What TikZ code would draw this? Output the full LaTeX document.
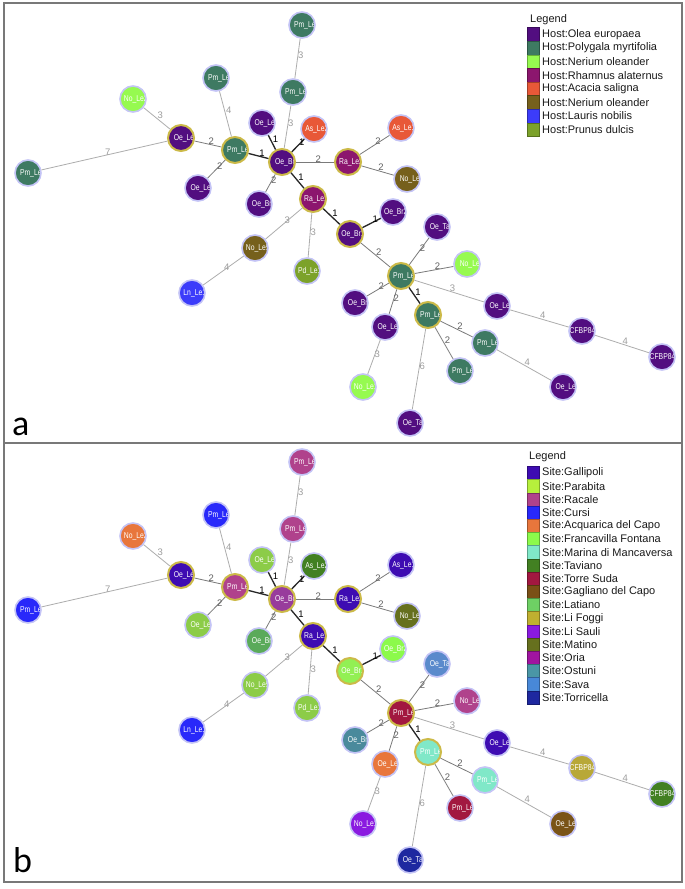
\documentclass[tikz,border=0pt]{standalone}
\usepackage{fontspec}
\setmainfont{Liberation Sans}
\newfontfamily\labfont[FakeStretch=0.8]{Liberation Sans}
\newfontfamily\elfont{Liberation Sans}
\newfontfamily\panfont{Carlito}
% ring colours
\definecolor{ringc}{RGB}{196,196,246}
\definecolor{hubc}{RGB}{204,186,72}
% panel a (host)
\definecolor{OE}{RGB}{82,14,128}
\definecolor{PM}{RGB}{62,122,98}
\definecolor{NOa}{RGB}{150,250,80}
\definecolor{RA}{RGB}{140,22,110}
\definecolor{AS}{RGB}{232,88,56}
\definecolor{NOb}{RGB}{118,96,28}
\definecolor{LN}{RGB}{60,60,250}
\definecolor{PD}{RGB}{124,162,42}
% panel b (site)
\definecolor{Gallipoli}{RGB}{62,12,178}
\definecolor{Parabita}{RGB}{182,240,60}
\definecolor{Racale}{RGB}{176,66,140}
\definecolor{Cursi}{RGB}{40,40,250}
\definecolor{Acquarica}{RGB}{232,118,60}
\definecolor{Francavilla}{RGB}{140,250,75}
\definecolor{Marina}{RGB}{128,232,200}
\definecolor{Taviano}{RGB}{66,128,34}
\definecolor{TorreSuda}{RGB}{162,24,64}
\definecolor{Gagliano}{RGB}{122,80,22}
\definecolor{Latiano}{RGB}{110,208,100}
\definecolor{LiFoggi}{RGB}{192,176,48}
\definecolor{LiSauli}{RGB}{138,26,224}
\definecolor{Matino}{RGB}{102,112,30}
\definecolor{Oria}{RGB}{160,20,160}
\definecolor{Ostuni}{RGB}{74,150,166}
\definecolor{Sava}{RGB}{72,136,216}
\definecolor{Torricella}{RGB}{30,40,160}
\definecolor{YG}{RGB}{140,204,72}
\definecolor{PurpleMix}{RGB}{152,60,156}
\definecolor{GreenMix}{RGB}{90,170,90}
\definecolor{FrancavillaB}{RGB}{146,240,84}
\definecolor{OstuniB}{RGB}{74,138,156}
\definecolor{GaglianoB}{RGB}{122,84,24}
\definecolor{LiFoggiB}{RGB}{184,168,56}
\definecolor{SavaB}{RGB}{90,138,204}
\definecolor{frame}{RGB}{120,120,120}
\definecolor{legtext}{RGB}{26,26,26}

\tikzset{
  nd/.style={circle, minimum size=26pt, inner sep=0pt, line width=1.6pt, draw=ringc},
  hub/.style={draw=hubc, line width=2pt},
  lbltxt/.style={inner sep=0pt, text=white, font=\labfont\fontsize{8.5}{8.5}\selectfont},
  w1/.style={draw=black!85, line width=1.3pt},
  w2/.style={draw=black!52, line width=0.8pt},
  w3/.style={draw=black!32, line width=0.8pt},
  w4/.style={w3}, w6/.style={w3}, w7/.style={w3},
  elbase/.style={pos=.5, anchor=base west, inner sep=0.3pt, font=\elfont\fontsize{9.5}{9.5}\selectfont},
  el1/.style={elbase, text=black},
  el2/.style={elbase, text=black!62},
  el3/.style={elbase, text=black!38},
  el4/.style={el3}, el6/.style={el3}, el7/.style={el3},
  legtitle/.style={anchor=west, inner sep=0pt, text=legtext, font=\elfont\fontsize{11}{11}\selectfont},
  legtxt/.style={anchor=west, inner sep=0pt, text=legtext, font=\elfont\fontsize{11}{11}\selectfont},
  panlab/.style={anchor=base west, inner sep=0pt, font=\panfont\fontsize{36}{36}\selectfont},
}

\newcommand\pfx{a}
\newcommand\Nd[5][]{\node[nd,#1,fill=#4,path picture={\node[lbltxt,anchor=west] at ([xshift=2pt]path picture bounding box.west) {#5};}] (\pfx#2) at (#3) {};}
\newcommand\Nc[5][]{\node[nd,#1,fill=#4,path picture={\node[lbltxt,anchor=center] at ([xshift=0.5pt]path picture bounding box.center) {#5};}] (\pfx#2) at (#3) {};}
\newcommand\Ed[3]{\draw[w#3] (\pfx#1) -- node[el#3] (\pfx l#1x#2) {#3} (\pfx#2);}

\newcommand\drawnet{%
  \Nd{1}{302,25}{c1}{Pm\_Le}
  \Nd{2}{293,92}{c2}{Pm\_Le}
  \Nd{3}{216,78}{c3}{Pm\_Le}
  \Nd{4}{133,99}{c4}{No\_Le2}
  \Nd[hub]{5}{181,138}{c5}{Oe\_Le}
  \Nd{6}{28,173}{c6}{Pm\_Le}
  \Nd[hub]{7}{235,150}{c7}{Pm\_Le}
  \Nd{8}{198,188}{c8}{Oe\_Le}
  \Nd{9}{262,123}{c9}{Oe\_Le}
  \Nd[hub]{10}{282,162}{c10}{Oe\_Br}
  \Nd{11}{314,129}{c11}{As\_Le2}
  \Nd[hub]{12}{348,162}{c12}{Ra\_Le2}
  \Nd{13}{401,128}{c13}{As\_Le1}
  \Nd{14}{407,179}{c14}{No\_Le}
  \Nd{15}{259,204}{c15}{Oe\_Br}
  \Nd[hub]{16}{313,199}{c16}{Ra\_Le1}
  \Nd{17}{393,212}{c17}{Oe\_Br2}
  \Nd[hub]{18}{350,234}{c18}{Oe\_Br1}
  \Nd{19}{255,248}{c19}{No\_Le5}
  \Nd{20}{192,293}{c20}{Ln\_Le1}
  \Nd{21}{307,271}{c21}{Pd\_Le1}
  \Nd{22}{437,227}{c22}{Oe\_Ta}
  \Nd{23}{467,264}{c23}{No\_Le}
  \Nd[hub]{24}{401,276}{c24}{Pm\_Le}
  \Nd{25}{355,303}{c25}{Oe\_Br}
  \Nd{26}{385,327}{c26}{Oe\_Le}
  \Nd{27}{363,387}{c27}{No\_Le1}
  \Nd{28}{410,423}{c28}{Oe\_Ta}
  \Nd[hub]{29}{428,315}{c29}{Pm\_Le}
  \Nd{30}{485,343}{c30}{Pm\_Le}
  \Nd{31}{460,371}{c31}{Pm\_Le}
  \Nd{32}{563,387}{c32}{Oe\_Le}
  \Nd{33}{497,306}{c33}{Oe\_Le}
  \Nc{34}{582,331}{c34}{CFBP84}
  \Nc{35}{662,357}{c35}{CFBP84}
  \Ed{1}{2}{3}
  \Ed{2}{10}{3}
  \Ed{3}{7}{4}
  \Ed{4}{5}{3}
  \Ed{6}{5}{7}
  \Ed{5}{7}{2}
  \Ed{7}{8}{2}
  \Ed{7}{10}{1}
  \Ed{9}{10}{1}
  \Ed{10}{11}{1}
  \Ed{10}{12}{2}
  \Ed{12}{13}{2}
  \Ed{12}{14}{2}
  \Ed{10}{15}{2}
  \Ed{10}{16}{1}
  \Ed{16}{19}{3}
  \Ed{19}{20}{4}
  \Ed{16}{21}{3}
  \Ed{16}{18}{1}
  \Ed{18}{17}{1}
  \Ed{18}{24}{2}
  \Ed{24}{22}{2}
  \Ed{24}{23}{2}
  \Ed{24}{33}{3}
  \Ed{33}{34}{4}
  \Ed{34}{35}{4}
  \Ed{24}{25}{2}
  \Ed{24}{26}{2}
  \Ed{26}{27}{3}
  \Ed{24}{29}{1}
  \Ed{29}{30}{2}
  \Ed{29}{31}{2}
  \Ed{30}{32}{4}
  \Ed{29}{28}{6}
}

\begin{document}
\begin{tikzpicture}[x=1pt,y=-1pt]
\useasboundingbox (0,0) rectangle (685,889);
\fill[white] (0,0) rectangle (685,889);
% frames
\draw[frame, line width=1.2pt] (4,3) rectangle (682,882);
\draw[frame, line width=1.2pt] (4,443) -- (682,443);
\node[panlab] (pa) at (12,435) {a};
\node[panlab] (pb) at (13,872) {b};

% ---------- panel a ----------
\begin{scope}
\renewcommand\pfx{a}
\foreach \i/\c in {1/PM,2/PM,3/PM,4/NOa,5/OE,6/PM,7/PM,8/OE,9/OE,10/OE,11/AS,12/RA,13/AS,14/NOb,15/OE,16/RA,17/OE,18/OE,19/NOb,20/LN,21/PD,22/OE,23/NOa,24/PM,25/OE,26/OE,27/NOa,28/OE,29/PM,30/PM,31/PM,32/OE,33/OE,34/OE,35/OE}{\xglobal\colorlet{c\i}{\c}}
\drawnet
\node[legtitle] (lta) at (530,20) {Legend};
\foreach \c/\t [count=\i from 0] in {OE/Host:Olea europaea,PM/Host:Polygala myrtifolia,NOa/Host:Nerium oleander,RA/Host:Rhamnus alaternus,AS/Host:Acacia saligna,NOb/Host:Nerium oleander,LN/Host:Lauris nobilis,PD/Host:Prunus dulcis}{
  \pgfmathsetmacro\yy{34.3+13.6*\i}
  \filldraw[fill=\c, draw=\c!70!black, line width=0.4pt] (527,\yy-6.8) rectangle (539,\yy+6.8);
  \node[legtxt] (la\i) at (542,\yy) {\t};
}
\end{scope}

% ---------- panel b ----------
\begin{scope}[yshift=-437pt]
\renewcommand\pfx{b}
\foreach \i/\c in {1/Racale,2/Racale,3/Cursi,4/Acquarica,5/Gallipoli,6/Cursi,7/Racale,8/YG,9/YG,10/PurpleMix,11/Taviano,12/Gallipoli,13/Gallipoli,14/Matino,15/GreenMix,16/Gallipoli,17/Francavilla,18/FrancavillaB,19/YG,20/Cursi,21/YG,22/SavaB,23/Racale,24/TorreSuda,25/OstuniB,26/Acquarica,27/LiSauli,28/Torricella,29/Marina,30/Marina,31/TorreSuda,32/GaglianoB,33/Gallipoli,34/LiFoggiB,35/Taviano}{\xglobal\colorlet{c\i}{\c}}
\drawnet
\end{scope}
\node[legtitle] (ltb) at (529,457) {Legend};
\foreach \c/\t [count=\i from 0] in {Gallipoli/Site:Gallipoli,Parabita/Site:Parabita,Racale/Site:Racale,Cursi/Site:Cursi,Acquarica/Site:Acquarica del Capo,Francavilla/Site:Francavilla Fontana,Marina/Site:Marina di Mancaversa,Taviano/Site:Taviano,TorreSuda/Site:Torre Suda,Gagliano/Site:Gagliano del Capo,Latiano/Site:Latiano,LiFoggi/Site:Li Foggi,LiSauli/Site:Li Sauli,Matino/Site:Matino,Oria/Site:Oria,Ostuni/Site:Ostuni,Sava/Site:Sava,Torricella/Site:Torricella}{
  \pgfmathsetmacro\yy{473+13.2*\i}
  \filldraw[fill=\c, draw=\c!70!black, line width=0.4pt] (527,\yy-6.6) rectangle (539,\yy+6.6);
  \node[legtxt] (lb\i) at (542,\yy) {\t};
}
\end{tikzpicture}
\end{document}
